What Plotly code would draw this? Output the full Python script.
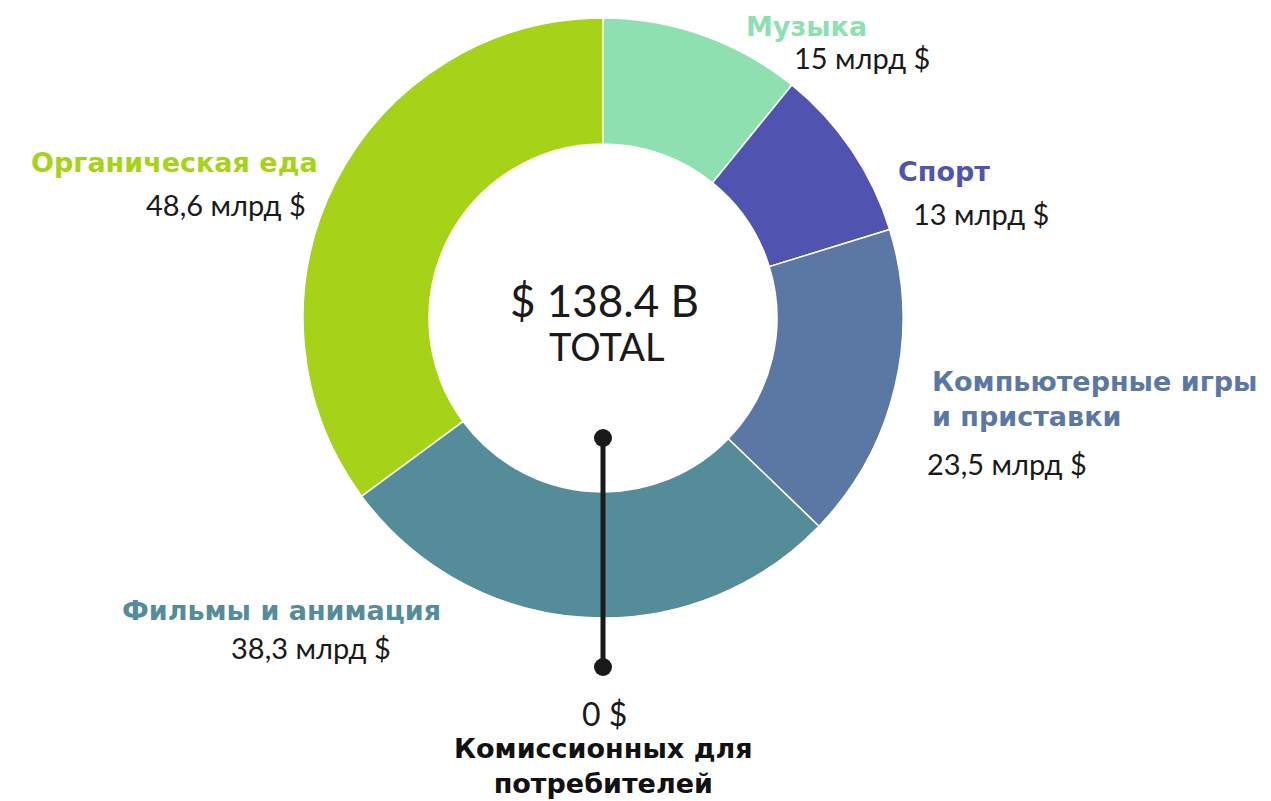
import plotly.graph_objects as go

# Market segments (billion USD)
categories = ["Музыка", "Спорт", "Компьютерные игры<br>и приставки", "Фильмы и анимация", "Органическая еда"]
values = [15, 13, 23.5, 38.3, 48.6]
value_labels = ["15 млрд $", "13 млрд $", "23,5 млрд $", "38,3 млрд $", "48,6 млрд $"]
colors = ["#8EE0B1", "#5054B0", "#5B78A4", "#558C9A", "#A6D317"]
total_label = "$ 138.4 B"
fee_label = "0 $"
fee_caption = "Комиссионных для<br>потребителей"

W, H = 1271, 801


def px(x):
    return x / W


def py(y):
    return 1 - y / H


fig = go.Figure()
fig.add_trace(go.Pie(
    labels=categories,
    values=values,
    hole=0.58,
    sort=False,
    direction="clockwise",
    rotation=0,
    marker=dict(colors=colors, line=dict(color="white", width=1.5)),
    textinfo="none",
    hoverinfo="label+value",
    showlegend=False,
    domain=dict(x=[px(303), px(903)], y=[py(618), py(18)]),
))

NAME_FONT = "DejaVu Sans"
VAL_FONT = "Lato"

# (category index, name x, name y, name anchor, value x, value y, value anchor)
label_pos = [
    (0, 806, 27, "center", 862, 58, "center"),
    (1, 944, 172, "center", 981, 213, "center"),
    (2, 930, 399, "left", 1007, 463, "center"),
    (4, 320, 162, "right", 308, 205, "right"),
    (3, 443, 610, "right", 393, 647, "right"),
]

annotations = []
for i, nx, ny, na, vx, vy, va in label_pos:
    annotations.append(dict(
        x=px(nx), y=py(ny), xref="paper", yref="paper", xanchor=na, yanchor="middle",
        text=f"<b>{categories[i]}</b>", showarrow=False, align="left",
        font=dict(family=NAME_FONT, size=27, color=colors[i]),
    ))
    annotations.append(dict(
        x=px(vx), y=py(vy), xref="paper", yref="paper", xanchor=va, yanchor="middle",
        text=value_labels[i], showarrow=False,
        font=dict(family=VAL_FONT, size=29, color="#1a1a1a"),
    ))

annotations += [
    dict(x=px(604), y=py(300), xref="paper", yref="paper", xanchor="center", yanchor="middle",
         text=total_label, showarrow=False, font=dict(family=VAL_FONT, size=44, color="#1a1a1a")),
    dict(x=px(606), y=py(346), xref="paper", yref="paper", xanchor="center", yanchor="middle",
         text="TOTAL", showarrow=False, font=dict(family=VAL_FONT, size=38, color="#1a1a1a")),
    dict(x=px(604), y=py(713), xref="paper", yref="paper", xanchor="center", yanchor="middle",
         text=fee_label, showarrow=False, font=dict(family=VAL_FONT, size=32, color="#1a1a1a")),
    dict(x=px(603), y=py(766), xref="paper", yref="paper", xanchor="center", yanchor="middle",
         text=f"<b>{fee_caption}</b>", showarrow=False,
         font=dict(family=NAME_FONT, size=27, color="#111111")),
]

# Pointer line with round ends
shapes = [
    dict(type="line", xref="paper", yref="paper", x0=px(603), x1=px(603), y0=py(438), y1=py(667),
         line=dict(color="#1a1a1a", width=5)),
    dict(type="circle", xref="paper", yref="paper", x0=px(594), x1=px(612), y0=py(447), y1=py(429),
         fillcolor="#1a1a1a", line=dict(width=0)),
    dict(type="circle", xref="paper", yref="paper", x0=px(594), x1=px(612), y0=py(676), y1=py(658),
         fillcolor="#1a1a1a", line=dict(width=0)),
]

fig.update_layout(
    width=W, height=H,
    margin=dict(l=0, r=0, t=0, b=0),
    paper_bgcolor="white", plot_bgcolor="white",
    annotations=annotations,
    shapes=shapes,
)

fig.write_html("out.html")
